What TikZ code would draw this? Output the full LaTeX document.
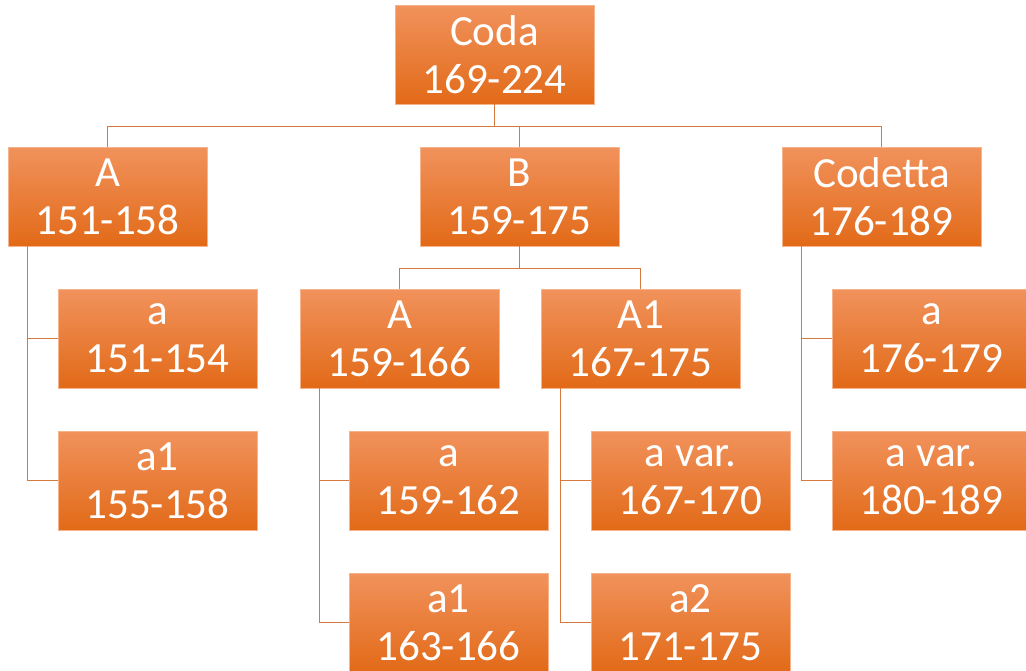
\documentclass[tikz,border=0pt]{standalone}
\usepackage{fontspec}
\setmainfont{Carlito}
\definecolor{boxtop}{RGB}{241,146,92}
\definecolor{boxmid}{RGB}{242,126,48}
\definecolor{boxbot}{RGB}{226,106,24}
\definecolor{boxedge}{RGB}{246,180,140}
\definecolor{linkcol}{RGB}{212,122,62}
\tikzset{
  part/.style={rectangle, draw=boxedge, line width=0.4pt,
    top color=boxtop, middle color=boxmid, bottom color=boxbot,
    minimum width=149.25pt, minimum height=74.25pt, inner sep=0pt,
    align=center, text=white, font=\fontsize{32.3}{36}\selectfont},
  link/.style={linkcol, line width=0.9pt}
}
\begin{document}
\begin{tikzpicture}[x=0.75pt, y=-0.75pt]
\useasboundingbox (0,0) rectangle (1026,671);
% top level
\node[part] (coda) at (494.5,54.5) {Coda\\169-224};
% sections
\node[part] (secA) at (107.5,196.5) {A\\151-158};
\node[part] (secB) at (519.5,196.5) {B\\159-175};
\node[part] (codetta) at (881.5,196.5) {Codetta\\176-189};
% section A
\node[part] (secAa) at (157.5,338.5) {a\\151-154};
\node[part] (secAaone) at (157.5,480.5) {a1\\155-158};
% section B
\node[part] (subA) at (399.5,338.5) {A\\159-166};
\node[part] (subAone) at (640.5,338.5) {A1\\167-175};
\node[part] (subAa) at (448.5,480.5) {a\\159-162};
\node[part] (subAaone) at (448.5,622.5) {a1\\163-166};
\node[part] (subAonevar) at (690.5,480.5) {a var.\\167-170};
\node[part] (subAonetwo) at (690.5,622.5) {a2\\171-175};
% codetta
\node[part] (codettaa) at (931.5,338.5) {a\\176-179};
\node[part] (codettavar) at (931.5,480.5) {a var.\\180-189};

% links
\draw[link] (coda.south) -- ++(0,22) coordinate (topbar);
\draw[link] (secA.north) |- (topbar);
\draw[link] (secB.north) |- (topbar);
\draw[link] (codetta.north) |- (topbar);
\draw[link] (secB.south) -- ++(0,22) coordinate (midbar);
\draw[link] (subA.north) |- (midbar);
\draw[link] (subAone.north) |- (midbar);
\draw[link] ([xshift=15pt]secA.south west) |- (secAa.west);
\draw[link] ([xshift=15pt]secA.south west) |- (secAaone.west);
\draw[link] ([xshift=15pt]subA.south west) |- (subAa.west);
\draw[link] ([xshift=15pt]subA.south west) |- (subAaone.west);
\draw[link] ([xshift=15pt]subAone.south west) |- (subAonevar.west);
\draw[link] ([xshift=15pt]subAone.south west) |- (subAonetwo.west);
\draw[link] ([xshift=15pt]codetta.south west) |- (codettaa.west);
\draw[link] ([xshift=15pt]codetta.south west) |- (codettavar.west);
\end{tikzpicture}
\end{document}
